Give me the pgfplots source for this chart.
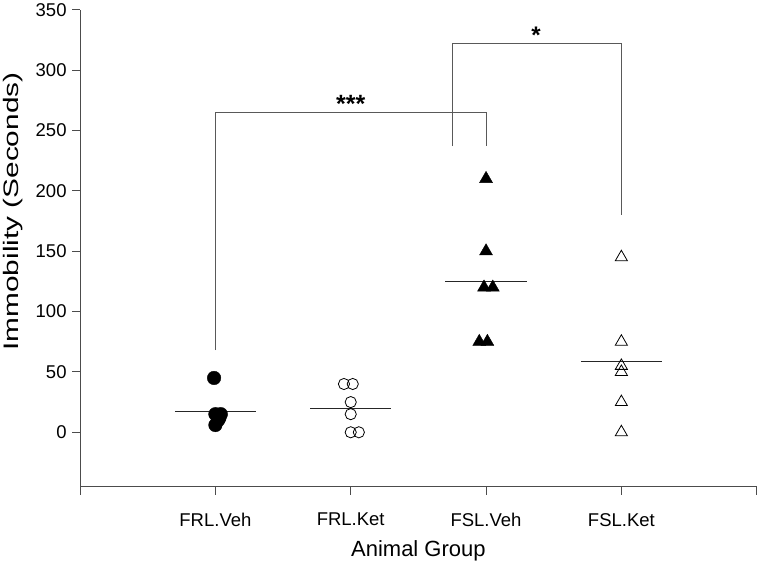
\documentclass[border=0pt]{standalone}
\usepackage{fontspec}
\setmainfont{Liberation Sans}
\usepackage{pgfplots}
\pgfplotsset{compat=1.18}
\begin{document}
\begin{tikzpicture}
\begin{axis}[
  scale only axis, width=677pt, height=477pt,
  xmin=0, xmax=5, ymin=-45, ymax=350,
  axis x line=bottom, axis y line=left,
  axis line style={-, draw=black!70, line width=0.9pt},
  tick style={draw=black!70, line width=0.9pt},
  tick align=outside, major tick length=8pt,
  xtick={0,1,2,3,4,5}, xticklabels={,FRL.Veh,FRL.Ket,FSL.Veh,FSL.Ket,},
  ytick={0,50,...,350},
  /pgf/number format/assume math mode=true,
  ticklabel style={font=\fontsize{18.5}{21}\selectfont},
  xticklabel style={yshift=-15pt},
  yticklabel style={xshift=-2pt},
  xlabel={Animal Group},
  ylabel={\scalebox{1.42}[1]{Immobility (Seconds)}},
  xlabel style={font=\fontsize{22}{25}\selectfont, at={(axis description cs:0.5,0)}, anchor=center, yshift=-64pt},
  ylabel style={font=\fontsize{21}{24}\selectfont, at={(axis description cs:-0.099,0.577)}, anchor=center, rotate=0},
  clip=false,
]
% mean lines
\addplot[black!85, line width=1.1pt, no marks] coordinates {(0.7,17) (1.3,17)};
\addplot[black!85, line width=1.1pt, no marks] coordinates {(1.7,20) (2.3,20)};
\addplot[black!85, line width=1.1pt, no marks] coordinates {(2.7,125) (3.3,125)};
\addplot[black!85, line width=1.1pt, no marks] coordinates {(3.7,58.3) (4.3,58.3)};
% brackets
\addplot[black!65, line width=0.8pt, no marks] coordinates {(1,68) (1,265) (3,265) (3,237)};
\addplot[black!65, line width=0.8pt, no marks] coordinates {(2.75,237) (2.75,322) (4,322) (4,180)};
% data
\addplot[only marks, mark=*, mark size=6.8pt, black] coordinates {
  (0.99,45) (1.0,15) (1.04,15) (1.03,12) (1.02,10) (1.0,6)};
\addplot[only marks, mark=o, mark size=5.6pt, black, mark options={line width=0.8pt}] coordinates {
  (1.95,40) (2.015,40) (2.0,25) (2.0,15) (2.0,0) (2.06,0)};
\addplot[only marks, mark=triangle*, mark size=7.5pt, black] coordinates {
  (3.0,210) (3.0,150) (2.985,120) (3.05,120) (2.95,75) (3.01,75)};
\addplot[only marks, mark=triangle, mark size=7pt, black, mark options={line width=0.8pt}] coordinates {
  (4,145) (4,75) (4,55) (4,50) (4,25) (4,0)};
\node[font=\bfseries\fontsize{25}{27}\selectfont, anchor=base] at (axis cs:2,265) {***};
\node[font=\bfseries\fontsize{24}{26}\selectfont, anchor=base] at (axis cs:3.37,322) {*};
\end{axis}
\end{tikzpicture}
\end{document}
